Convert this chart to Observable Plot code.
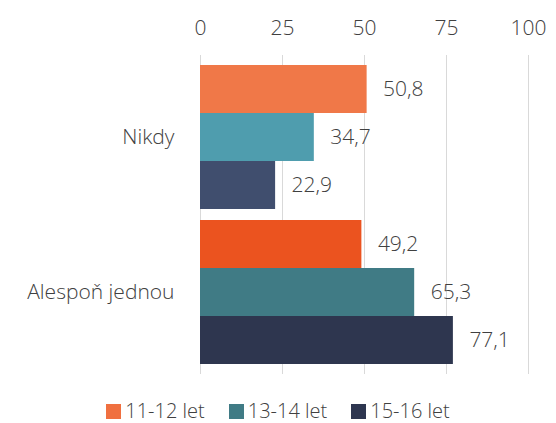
<!DOCTYPE html>
<html>
<head>
<meta charset="utf-8">
<script src="https://cdn.jsdelivr.net/npm/d3@7"></script>
<script src="https://cdn.jsdelivr.net/npm/@observablehq/plot@0.6"></script>
<style>
  html, body { margin: 0; padding: 0; background: #fff; }
  body { width: 556px; height: 423px; overflow: hidden; font-family: "Open Sans", "Noto Sans", sans-serif; }
  #legend { display: flex; justify-content: center; font-size: 20px; color: #404040; font-weight: 300; margin-top: 14px; line-height: 24px; }
  .item { display: flex; align-items: center; margin: 0 12px; }
  .sw { width: 15px; height: 15px; margin-right: 4px; }
</style>
</head>
<body>
<div id="chart"></div>
<div id="legend"></div>
<script>
const categories = ["Nikdy", "Alespoň jednou"];
const series = ["11-12 let", "13-14 let", "15-16 let"];
const nikdy = [50.8, 34.7, 22.9];
const alesponJednou = [49.2, 65.3, 77.1];
const ticks = [0, 25, 50, 75, 100];

// styles (colors per group and series)
const colorsNikdy = ["#F07848", "#4F9DAE", "#404E6E"];
const colorsAlespon = ["#EB531F", "#407B85", "#2E364F"];
const legendColors = ["#F07040", "#407B85", "#2E3650"];

const data = [];
series.forEach((s, i) => {
  data.push({category: categories[0], series: s, value: nikdy[i], color: colorsNikdy[i]});
  data.push({category: categories[1], series: s, value: alesponJednou[i], color: colorsAlespon[i]});
});

const fmt = v => v.toFixed(1).replace(".", ",");

const chart = Plot.plot({
  width: 556,
  height: 385,
  marginTop: 55,
  marginBottom: 11,
  marginLeft: 200,
  marginRight: 28,
  style: {fontFamily: "'Open Sans', 'Noto Sans', sans-serif", fontSize: "21px", fontWeight: 300, color: "#404040", background: "#fff"},
  facet: {marginTop: 0, marginBottom: 0, marginLeft: 0, marginRight: 0},
  x: {domain: [0, 100], ticks: ticks, axis: null},
  y: {domain: series, padding: 0, axis: null},
  fy: {domain: categories, paddingInner: 0.058, paddingOuter: 0.058, axis: null, label: null},
  marks: [
    Plot.ruleX(ticks, {x: d => d, stroke: "#d9d9d9", strokeWidth: 1, insetTop: -9, insetBottom: -9}),
    Plot.barX(data, {x: "value", y: "series", fy: "category", fill: "color"}),
    Plot.text(data, {x: "value", y: "series", fy: "category", text: d => fmt(d.value), textAnchor: "start", dx: 16, fill: "#404040", fontSize: 21}),
    Plot.axisX({anchor: "top", ticks: ticks, tickSize: 0, tickPadding: 30, label: null, fill: "#404040", fontSize: 21, tickFormat: d => String(d)}),
    Plot.axisFy({anchor: "left", tickSize: 0, tickPadding: 26, label: null, fill: "#404040", fontSize: 21})
  ]
});
document.getElementById("chart").appendChild(chart);

const legend = document.getElementById("legend");
series.forEach((s, i) => {
  const it = document.createElement("div");
  it.className = "item";
  const sw = document.createElement("div");
  sw.className = "sw";
  sw.style.background = legendColors[i];
  const t = document.createElement("span");
  t.textContent = s;
  it.appendChild(sw);
  it.appendChild(t);
  legend.appendChild(it);
});
</script>
</body>
</html>
